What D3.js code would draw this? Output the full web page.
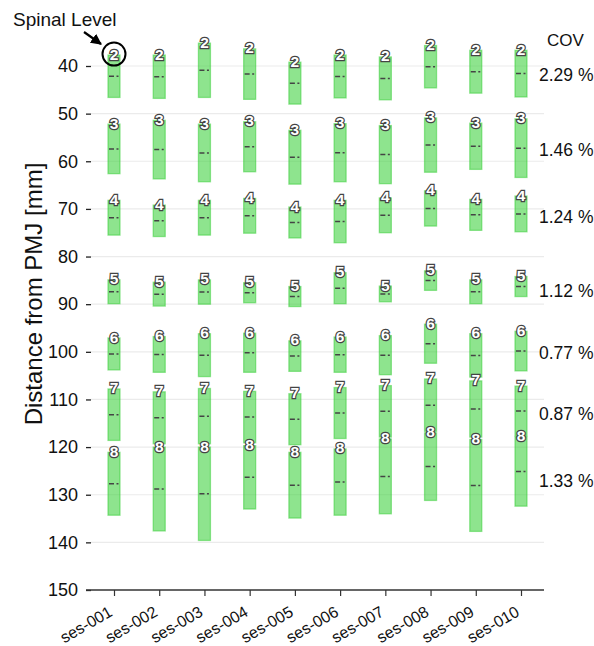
<!DOCTYPE html>
<html>
<head>
  <meta charset="utf-8">
  <title>Spinal levels vs PMJ distance</title>
  <style>
    body { margin: 0; background: #fff; }
    text { font-family: "Liberation Sans", Arial, Helvetica, sans-serif; }
  </style>
</head>
<body>
  <script src="https://d3js.org/d3.v7.min.js"></script>
  <script>
    // sessions on x, spinal levels 2..8 stacked on y
    var sessions = ["ses-001", "ses-002", "ses-003", "ses-004", "ses-005",
                    "ses-006", "ses-007", "ses-008", "ses-009", "ses-010"];
    var levels = [2, 3, 4, 5, 6, 7, 8];

    // upper (rostral) edge of each level, one row per level
    var levelTop = [
      [37.7, 37.7, 35.2, 36.4, 39.2, 37.7, 38.1, 35.7, 36.7, 36.7],
      [52.2, 51.4, 52.2, 51.7, 53.5, 52.1, 52.5, 50.9, 52.0, 51.1],
      [68.2, 69.2, 68.2, 67.8, 69.6, 68.2, 67.7, 66.2, 68.0, 67.3],
      [84.9, 85.4, 84.9, 85.5, 86.3, 83.4, 86.2, 83.0, 84.9, 84.2],
      [97.1, 96.8, 96.2, 96.1, 97.7, 96.9, 96.6, 94.2, 96.2, 95.7],
      [107.8, 108.4, 107.7, 108.3, 108.8, 107.5, 107.1, 105.7, 106.1, 107.2],
      [121.1, 120.0, 120.0, 119.7, 121.1, 120.4, 118.3, 117.0, 118.4, 117.8]
    ];
    // lower (caudal) edge
    var levelBottom = [
      [46.6, 46.8, 46.6, 47.0, 48.0, 46.7, 47.1, 44.6, 45.7, 46.5],
      [62.6, 63.7, 64.3, 62.2, 64.8, 64.3, 64.7, 62.3, 61.7, 63.4],
      [75.5, 75.8, 75.5, 75.1, 76.1, 77.1, 75.0, 73.6, 74.5, 74.8],
      [89.9, 90.4, 90.0, 89.7, 90.5, 89.9, 89.5, 87.1, 89.9, 88.4],
      [103.8, 104.3, 105.2, 104.3, 104.1, 104.3, 104.8, 102.4, 105.3, 104.0],
      [118.6, 119.3, 119.3, 119.1, 119.5, 118.2, 117.9, 116.7, 117.9, 117.6],
      [134.3, 137.6, 139.6, 133.0, 134.9, 134.3, 134.0, 131.2, 137.7, 132.4]
    ];
    var covLabels = ["2.29 %", "1.46 %", "1.24 %", "1.12 %", "0.77 %", "0.87 %", "1.33 %"];
    var yTicks = [40, 50, 60, 70, 80, 90, 100, 110, 120, 130, 140, 150];

    var width = 594;
    var height = 646;
    var barW = 12;

    var svg = d3.select("body").append("svg")
      .attr("width", width).attr("height", height);

    var x = d3.scaleLinear().domain([0, sessions.length - 1]).range([114, 521]);
    var y = d3.scaleLinear().domain([40, 150]).range([66, 590]);
    var left = 86, right = 544;

    // grid
    svg.append("g").selectAll("line").data(yTicks.slice(0, -1)).enter().append("line")
      .attr("x1", left + 5).attr("x2", right)
      .attr("y1", function(d) { return y(d); }).attr("y2", function(d) { return y(d); })
      .attr("stroke", "#ebebeb").attr("stroke-width", 1.2);

    // y axis (no spine)
    var yAxis = svg.append("g").attr("transform", "translate(" + (left + 5) + ",0)")
      .call(d3.axisLeft(y).tickValues(yTicks).tickSize(5).tickPadding(8));
    yAxis.select(".domain").remove();
    yAxis.selectAll(".tick line").attr("stroke", "#222").attr("stroke-width", 1.3);
    yAxis.selectAll(".tick text").attr("font-size", 18).attr("fill", "#111")
      .attr("font-family", "Liberation Sans, Arial, sans-serif");

    // x axis
    var xAxis = svg.append("g").attr("transform", "translate(0," + y(150) + ")")
      .call(d3.axisBottom(x).tickValues(d3.range(sessions.length))
        .tickFormat(function(i) { return sessions[i]; }).tickSize(6).tickSizeOuter(0));
    xAxis.select(".domain").attr("d", "M" + left + ",0H" + right)
      .attr("stroke", "#333").attr("stroke-width", 1.6);
    xAxis.selectAll(".tick line").attr("stroke", "#333").attr("stroke-width", 1.2);
    xAxis.selectAll(".tick text")
      .attr("font-size", 16).attr("fill", "#111")
      .attr("font-family", "Liberation Sans, Arial, sans-serif")
      .attr("text-anchor", "end")
      .attr("dy", null).attr("y", 0)
      .attr("transform", "translate(-1,25) rotate(-30)");

    // bars
    var cells = [];
    levels.forEach(function(lv, li) {
      sessions.forEach(function(s, si) {
        cells.push({ level: lv, li: li, si: si, top: levelTop[li][si], bottom: levelBottom[li][si] });
      });
    });

    var bars = svg.append("g");
    bars.selectAll("rect").data(cells).enter().append("rect")
      .attr("x", function(d) { return x(d.si) - barW / 2; })
      .attr("y", function(d) { return y(d.top); })
      .attr("width", barW)
      .attr("height", function(d) { return y(d.bottom) - y(d.top); })
      .attr("fill", "rgb(50,205,50)").attr("fill-opacity", 0.55)
      .attr("stroke", "rgb(50,205,50)").attr("stroke-opacity", 0.5).attr("stroke-width", 1.3);

    // center dash
    bars.selectAll("line").data(cells).enter().append("line")
      .attr("x1", function(d) { return x(d.si) - barW / 2 + 1; })
      .attr("x2", function(d) { return x(d.si) + barW / 2 - 1; })
      .attr("y1", function(d) { return y((d.top + d.bottom) / 2); })
      .attr("y2", function(d) { return y((d.top + d.bottom) / 2); })
      .attr("stroke", "#444").attr("stroke-width", 1.5)
      .attr("stroke-dasharray", "5,2.5,2,3");

    // level number labels
    svg.append("g").selectAll("text").data(cells).enter().append("text")
      .attr("x", function(d) { return x(d.si); })
      .attr("y", function(d) { return y(d.top) + 4.5; })
      .attr("text-anchor", "middle")
      .attr("font-size", 15.5).attr("font-weight", "bold")
      .attr("fill", "#fff").attr("stroke", "#444").attr("stroke-width", 2.4)
      .attr("paint-order", "stroke")
      .text(function(d) { return d.level; });

    // COV column
    svg.append("text").attr("x", 547).attr("y", 46)
      .attr("font-size", 17).attr("fill", "#111").text("COV");
    svg.append("g").selectAll("text").data(levels).enter().append("text")
      .attr("x", 539)
      .attr("y", function(d, li) {
        var c = d3.mean(levelTop[li].map(function(t, i) { return (t + levelBottom[li][i]) / 2; }));
        return y(c);
      })
      .attr("dy", "0.35em")
      .attr("font-size", 17.5).attr("fill", "#111")
      .text(function(d, li) { return covLabels[li]; });

    // axis title
    svg.append("text")
      .attr("transform", "translate(42," + 294 + ") rotate(-90)")
      .attr("text-anchor", "middle")
      .attr("font-size", 24).attr("fill", "#111")
      .text("Distance from PMJ [mm]");

    // annotation
    svg.append("defs").append("marker")
      .attr("id", "head").attr("viewBox", "0 0 10 10")
      .attr("refX", 9).attr("refY", 5)
      .attr("markerWidth", 5).attr("markerHeight", 5)
      .attr("orient", "auto")
      .append("path").attr("d", "M0,0L10,5L0,10z").attr("fill", "#000");

    var first = cells[0];
    svg.append("circle")
      .attr("cx", x(first.si)).attr("cy", y(first.top) - 1)
      .attr("r", 11.5)
      .attr("fill", "none").attr("stroke", "#000").attr("stroke-width", 2);
    svg.append("line")
      .attr("x1", 84).attr("y1", 32).attr("x2", 101).attr("y2", 44)
      .attr("stroke", "#000").attr("stroke-width", 2.2)
      .attr("marker-end", "url(#head)");
    svg.append("text").attr("x", 13).attr("y", 26)
      .attr("font-size", 19).attr("fill", "#111").text("Spinal Level");
  </script>
</body>
</html>
